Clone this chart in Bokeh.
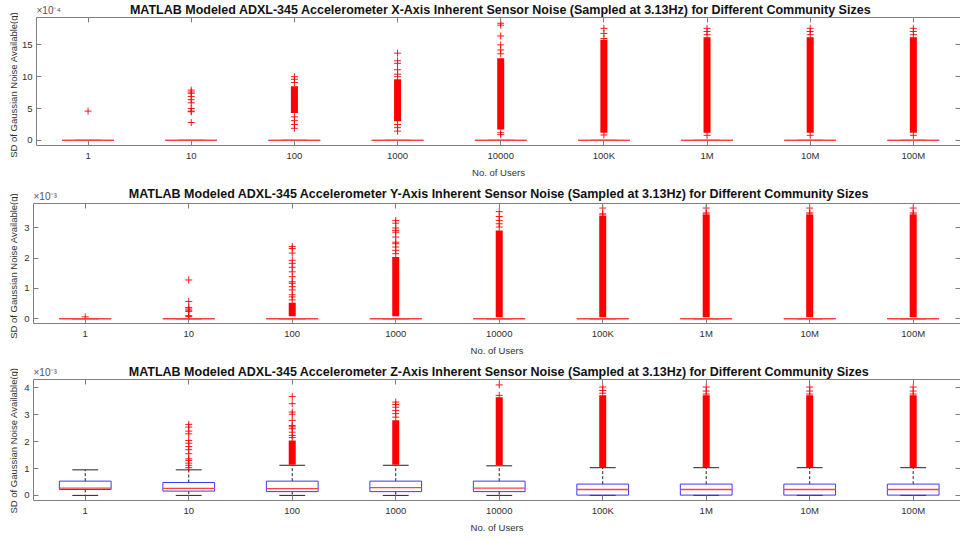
import math
from bokeh.plotting import figure
from bokeh.models import (FixedTicker, LinearAxis, Range1d, ColumnDataSource,
                          CustomLabelingPolicy)
from bokeh.core.properties import value
from bokeh.layouts import column, row
from bokeh.embed import file_html
from bokeh.resources import INLINE

categories = ["1", "10", "100", "1000", "10000", "100K", "1M", "10M", "100M"]

# ---- X-axis noise (units of 1e-4 g) ----
x_q1 = [0, 0, 0, 0, 0, 0, 0, 0, 0]
x_median = [0, 0, 0, 0, 0, 0, 0, 0, 0]
x_q3 = [0, 0, 0, 0, 0, 0, 0, 0, 0]
x_whisker_lo = [0, 0, 0, 0, 0, 0, 0, 0, 0]
x_whisker_hi = [0, 0, 0, 0, 0, 0, 0, 0, 0]
x_dense_lo = [None, None, 4.3, 3.0, 1.7, 1.2, 1.2, 1.2, 1.2]
x_dense_hi = [None, None, 8.5, 9.6, 12.9, 15.8, 16.2, 16.2, 16.2]
x_outliers = [
    [4.6],
    [7.9, 7.6, 7.4, 6.9, 6.4, 5.9, 5.0, 4.6, 4.5, 2.8],
    [10.0, 9.6, 9.1, 3.7, 3.1, 2.5, 1.9],
    [13.7, 12.5, 12.1, 11.1, 10.4, 10.0, 2.5, 2.0, 1.45],
    [18.4, 18.1, 16.4, 15.0, 14.2, 13.6, 1.2, 0.9],
    [17.6, 16.8, 16.0, 0.85],
    [17.6, 17.1, 16.6, 0.8],
    [17.6, 17.1, 16.6, 0.8],
    [17.6, 17.1, 16.6, 0.8],
]
x_ticks = [0, 5, 10, 15]

# ---- Y-axis noise (units of 1e-3 g) ----
y_q1 = [0, 0, 0, 0, 0, 0, 0, 0, 0]
y_median = [0, 0, 0, 0, 0, 0, 0, 0, 0]
y_q3 = [0, 0, 0, 0, 0, 0, 0, 0, 0]
y_whisker_lo = [0, 0, 0, 0, 0, 0, 0, 0, 0]
y_whisker_hi = [0, 0, 0, 0, 0, 0, 0, 0, 0]
y_dense_lo = [None, None, 0.08, 0.08, 0.05, 0.05, 0.05, 0.05, 0.05]
y_dense_hi = [None, None, 0.53, 2.04, 2.92, 3.40, 3.44, 3.44, 3.44]
y_outliers = [
    [0.06],
    [1.28, 0.57, 0.37, 0.32, 0.28, 0.24, 0.10, 0.07],
    [2.39, 2.32, 2.17, 1.93, 1.83, 1.70, 1.55, 1.39, 1.22, 1.17, 1.06, 0.95, 0.79, 0.72, 0.62],
    [3.25, 3.16, 3.00, 2.92, 2.86, 2.70, 2.53, 2.48, 2.37, 2.26, 2.15],
    [3.54, 3.38, 3.25, 3.14, 3.03],
    [3.66, 3.47, 3.43],
    [3.66, 3.50, 3.46],
    [3.66, 3.50, 3.46],
    [3.66, 3.50, 3.46],
]
y_ticks = [0, 1, 2, 3]

# ---- Z-axis noise (units of 1e-3 g) ----
z_q1 = [0.22, 0.16, 0.14, 0.14, 0.14, 0.01, 0.01, 0.01, 0.01]
z_median = [0.27, 0.26, 0.25, 0.29, 0.27, 0.22, 0.22, 0.22, 0.22]
z_q3 = [0.53, 0.48, 0.53, 0.53, 0.53, 0.42, 0.42, 0.42, 0.42]
z_whisker_lo = [0, 0, 0, 0, 0, 0, 0, 0, 0]
z_whisker_hi = [0.95, 0.95, 1.12, 1.12, 1.10, 1.03, 1.03, 1.03, 1.03]
z_dense_lo = [None, None, 1.14, 1.14, 1.12, 1.05, 1.05, 1.05, 1.05]
z_dense_hi = [None, None, 2.04, 2.79, 3.65, 3.72, 3.72, 3.72, 3.72]
z_outliers = [
    [],
    [2.64, 2.54, 2.39, 2.29, 2.04, 1.94, 1.82, 1.70, 1.55, 1.36, 1.30, 1.20, 1.12, 1.03],
    [3.68, 3.41, 3.10, 3.02, 2.79, 2.60, 2.55, 2.48, 2.35, 2.23, 2.15],
    [3.47, 3.38, 3.28, 3.16, 3.04, 2.91],
    [4.11, 3.72],
    [4.03, 3.90, 3.80],
    [4.03, 3.88, 3.77],
    [4.03, 3.88, 3.77],
    [4.03, 3.88, 3.77],
]
z_ticks = [0, 1, 2, 3, 4]

titles = [
    "MATLAB Modeled ADXL-345 Accelerometer X-Axis Inherent Sensor Noise (Sampled at 3.13Hz) for Different Community Sizes",
    "MATLAB Modeled ADXL-345 Accelerometer Y-Axis Inherent Sensor Noise (Sampled at 3.13Hz) for Different Community Sizes",
    "MATLAB Modeled ADXL-345 Accelerometer Z-Axis Inherent Sensor Noise (Sampled at 3.13Hz) for Different Community Sizes",
]
exponents = ["×10⁻⁴", "×10⁻³", "×10⁻³"]
ylabels = ["SD of  Gaussian Noise Available(g)", "SD of  Gaussian Noise Available(g)",
           "SD of Gaussian Noise Available(g)"]
xlabel = "No. of Users"

FONT = "Liberation Sans"
AXIS_COLOR = "#808080"
TEXT_COLOR = "#303030"
positions = list(range(1, len(categories) + 1))
X_LO, X_HI = 0.5, 9.457
TITLE_X = (positions[0] + positions[-1]) / 2
LEFT_W = 18          # strip holding the rotated y label
MAIN_W = 960 - LEFT_W

NO_LABELS = CustomLabelingPolicy(code="""
for (const i of Array.from(indices)) { indices.unset(i) }
return indices
""")


def blank(width, height, xr, yr, left=0):
    f = figure(width=width, height=height, output_backend="svg", toolbar_location=None,
               x_range=xr, y_range=yr, x_axis_type=None, y_axis_type=None,
               min_border_left=left, min_border_right=0, min_border_top=0,
               min_border_bottom=0, outline_line_color=None,
               background_fill_color="white", border_fill_color="white")
    f.grid.visible = False
    return f


def make_ylabel(text, height, center_y):
    f = blank(LEFT_W, height, Range1d(0, LEFT_W), Range1d(0, height))
    f.text(x=[13], y=[center_y], text=[text], angle=math.pi / 2,
           text_font=value(FONT), text_font_size="9.5px", text_color=TEXT_COLOR,
           text_align="center", text_baseline="middle")
    return f


def make_header(title, exp_text, height, title_y):
    h = blank(MAIN_W, height, Range1d(X_LO, X_HI), Range1d(0, height), left=33 - LEFT_W)
    h.text(x=[TITLE_X], y=[title_y], text=[title], text_font=value(FONT),
           text_font_style="bold", text_font_size="12.5px", text_color="#111111",
           text_align="center", text_baseline="middle")
    h.text(x=[X_LO], y=[2], text=[exp_text], text_font=value(FONT),
           text_font_size="10px", text_color="#555555",
           text_align="left", text_baseline="bottom")
    return h


def make_panel(q1, med, q3, wlo, whi, dlo, dhi, outs, ylo, yhi, yticks, height, bottom):
    p = figure(width=MAIN_W, height=height, output_backend="svg", toolbar_location=None,
               x_range=Range1d(X_LO, X_HI), y_range=Range1d(ylo, yhi),
               min_border_left=33 - LEFT_W, min_border_right=0,
               min_border_top=0, min_border_bottom=bottom,
               outline_line_color=None, background_fill_color="white",
               border_fill_color="white")
    p.grid.visible = False

    src = ColumnDataSource(dict(
        x=positions, q1=q1, med=med, q3=q3, wlo=wlo, whi=whi,
        left=[v - 0.25 for v in positions], right=[v + 0.25 for v in positions],
        cl=[v - 0.125 for v in positions], cr=[v + 0.125 for v in positions],
    ))
    # whiskers
    p.segment(x0="x", y0="q3", x1="x", y1="whi", source=src, line_color="#222222",
              line_dash="3 2", line_width=1)
    p.segment(x0="x", y0="q1", x1="x", y1="wlo", source=src, line_color="#222222",
              line_dash="3 2", line_width=1)
    # caps
    p.segment(x0="cl", y0="whi", x1="cr", y1="whi", source=src, line_color="#222222", line_width=1)
    p.segment(x0="cl", y0="wlo", x1="cr", y1="wlo", source=src, line_color="#222222", line_width=1)
    # boxes
    p.quad(left="left", right="right", bottom="q1", top="q3", source=src,
           fill_color=None, line_color="#3a3aff", line_width=1)
    # medians
    p.segment(x0="left", y0="med", x1="right", y1="med", source=src,
              line_color="#ff4040", line_width=1.3)

    # dense outlier runs
    dx, d0, d1 = [], [], []
    for xi, a, b in zip(positions, dlo, dhi):
        if a is not None:
            dx.append(xi); d0.append(a); d1.append(b)
    p.segment(x0=dx, y0=d0, x1=dx, y1=d1, line_color="#ff0000", line_width=7,
              line_cap="butt")
    # individual outliers
    ox, oy = [], []
    for xi, vals in zip(positions, outs):
        for v in vals:
            ox.append(xi); oy.append(v)
    p.scatter(ox, oy, marker="cross", size=7, line_color="#ff0000", line_width=1,
              line_alpha=0.9)

    # axes
    xa = p.xaxis[0]
    xa.ticker = FixedTicker(ticks=positions)
    xa.major_label_overrides = {i: c for i, c in zip(positions, categories)}
    xa.axis_label = xlabel
    ya = p.yaxis[0]
    ya.ticker = FixedTicker(ticks=yticks)
    for ax in (xa, ya):
        ax.axis_line_color = AXIS_COLOR
        ax.major_tick_line_color = AXIS_COLOR
        ax.major_tick_in = 5
        ax.major_tick_out = 0
        ax.minor_tick_line_color = None
        ax.major_label_text_font = FONT
        ax.major_label_text_font_size = "9.5px"
        ax.major_label_text_color = TEXT_COLOR
        ax.axis_label_text_font = FONT
        ax.axis_label_text_font_size = "9.5px"
        ax.axis_label_text_font_style = "normal"
        ax.axis_label_text_color = TEXT_COLOR
        ax.major_label_standoff = 4
        ax.axis_label_standoff = 3

    top_ax = LinearAxis(ticker=FixedTicker(ticks=positions), axis_line_color=AXIS_COLOR,
                        major_tick_line_color=AXIS_COLOR, major_tick_in=5, major_tick_out=0,
                        minor_tick_line_color=None, major_label_text_font_size="0px",
                        major_label_standoff=0, major_label_policy=NO_LABELS)
    p.add_layout(top_ax, "above")
    right_ax = LinearAxis(ticker=FixedTicker(ticks=yticks), axis_line_color=None,
                          major_tick_line_color=AXIS_COLOR, major_tick_in=5, major_tick_out=0,
                          minor_tick_line_color=None, major_label_text_font_size="0px",
                          major_label_standoff=0, major_label_policy=NO_LABELS)
    p.add_layout(right_ax, "right")
    return p


# panel 1: header 17 + main 163 (frame 129)
h1 = make_header(titles[0], exponents[0], 17, 8)
p1 = make_panel(x_q1, x_median, x_q3, x_whisker_lo, x_whisker_hi, x_dense_lo, x_dense_hi,
                x_outliers, -0.8, 19.3, x_ticks, 163, 34)
l1 = make_ylabel(ylabels[0], 180, 180 - 83)
# panel 2: header 23 + main 155 (frame 121)
h2 = make_header(titles[1], exponents[1], 23, 10)
p2 = make_panel(y_q1, y_median, y_q3, y_whisker_lo, y_whisker_hi, y_dense_lo, y_dense_hi,
                y_outliers, -0.16, 3.81, y_ticks, 155, 34)
l2 = make_ylabel(ylabels[1], 178, 178 - 84)
# panel 3: header 21 + main 161 (frame 121)
h3 = make_header(titles[2], exponents[2], 21, 8)
p3 = make_panel(z_q1, z_median, z_q3, z_whisker_lo, z_whisker_hi, z_dense_lo, z_dense_hi,
                z_outliers, -0.19, 4.31, z_ticks, 161, 40)
l3 = make_ylabel(ylabels[2], 182, 182 - 82)

layout = column(
    row(l1, column(h1, p1, spacing=0), spacing=0),
    row(l2, column(h2, p2, spacing=0), spacing=0),
    row(l3, column(h3, p3, spacing=0), spacing=0),
    spacing=0,
)
open("out.html", "w").write(file_html(layout, INLINE))
